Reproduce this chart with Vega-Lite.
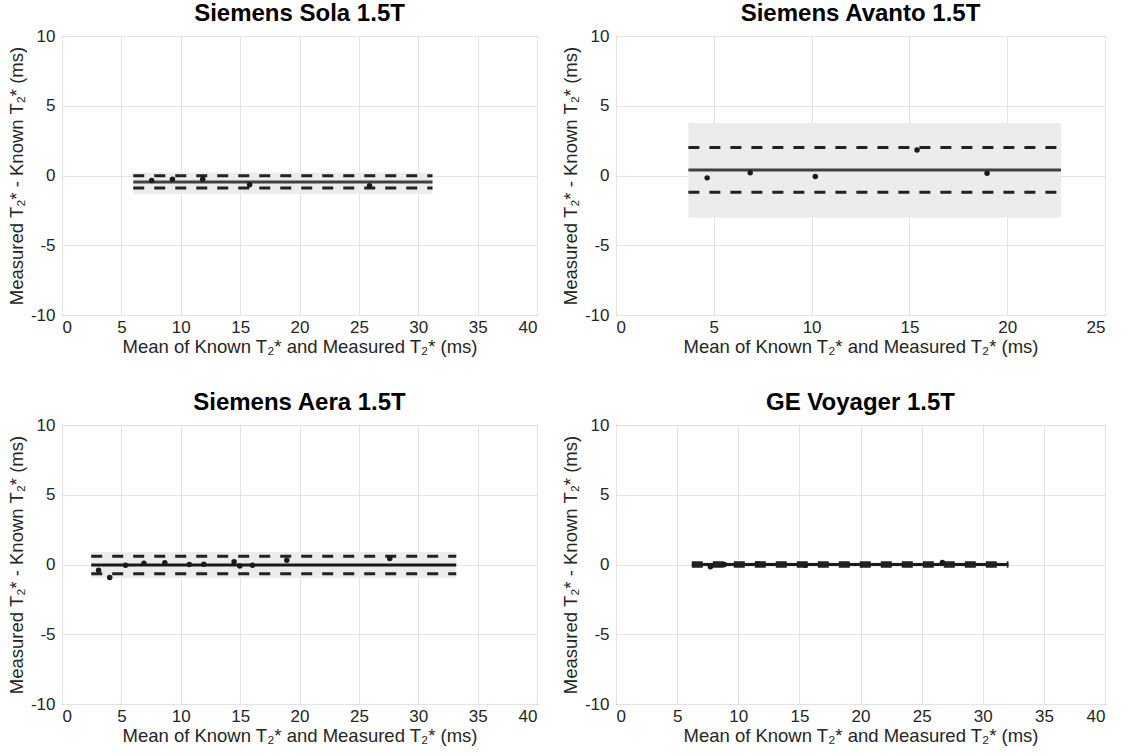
{
  "$schema": "https://vega.github.io/schema/vega-lite/v6.json",
  "padding": {"left": 6, "top": 1, "right": 10, "bottom": 2},
  "background": "white",
  "spacing": 34,
  "datasets": {
    "points": [
      {"panel": "Sola", "mean": 7.55, "diff": -0.36},
      {"panel": "Sola", "mean": 9.3, "diff": -0.26},
      {"panel": "Sola", "mean": 11.85, "diff": -0.26},
      {"panel": "Sola", "mean": 15.8, "diff": -0.67},
      {"panel": "Sola", "mean": 25.9, "diff": -0.74},
      {"panel": "Avanto", "mean": 4.66, "diff": -0.17},
      {"panel": "Avanto", "mean": 6.86, "diff": 0.19},
      {"panel": "Avanto", "mean": 10.19, "diff": -0.07},
      {"panel": "Avanto", "mean": 15.39, "diff": 1.83},
      {"panel": "Avanto", "mean": 18.97, "diff": 0.16},
      {"panel": "Aera", "mean": 3.08, "diff": -0.41},
      {"panel": "Aera", "mean": 4.02, "diff": -0.93},
      {"panel": "Aera", "mean": 5.35, "diff": -0.05},
      {"panel": "Aera", "mean": 6.9, "diff": 0.09},
      {"panel": "Aera", "mean": 8.66, "diff": 0.12},
      {"panel": "Aera", "mean": 10.72, "diff": 0.0},
      {"panel": "Aera", "mean": 11.94, "diff": 0.02},
      {"panel": "Aera", "mean": 14.49, "diff": 0.19},
      {"panel": "Aera", "mean": 14.97, "diff": -0.1},
      {"panel": "Aera", "mean": 16.04, "diff": -0.05},
      {"panel": "Aera", "mean": 18.93, "diff": 0.31},
      {"panel": "Aera", "mean": 27.6, "diff": 0.43},
      {"panel": "GE", "mean": 7.72, "diff": -0.16},
      {"panel": "GE", "mean": 8.87, "diff": 0.0},
      {"panel": "GE", "mean": 11.6, "diff": 0.05},
      {"panel": "GE", "mean": 15.47, "diff": -0.05},
      {"panel": "GE", "mean": 26.7, "diff": 0.15}
    ],
    "bands": [
      {"panel": "Sola", "x0": 6.0, "x1": 31.2, "lo": -1.32, "hi": 0.22},
      {"panel": "Avanto", "x0": 3.7, "x1": 22.75, "lo": -3.02, "hi": 3.76},
      {"panel": "Aera", "x0": 2.46, "x1": 33.2, "lo": -0.96, "hi": 0.9},
      {"panel": "GE", "x0": 6.2, "x1": 32.1, "lo": -0.2, "hi": 0.2}
    ],
    "lines": [
      {"panel": "Sola", "kind": "mean", "x0": 6.0, "x1": 31.2, "value": -0.46},
      {"panel": "Sola", "kind": "limit", "x0": 6.0, "x1": 31.2, "value": -0.01},
      {"panel": "Sola", "kind": "limit", "x0": 6.0, "x1": 31.2, "value": -0.9},
      {"panel": "Avanto", "kind": "mean", "x0": 3.7, "x1": 22.75, "value": 0.39},
      {"panel": "Avanto", "kind": "limit", "x0": 3.7, "x1": 22.75, "value": 2.01},
      {"panel": "Avanto", "kind": "limit", "x0": 3.7, "x1": 22.75, "value": -1.2},
      {"panel": "Aera", "kind": "mean", "x0": 2.46, "x1": 33.2, "value": -0.04},
      {"panel": "Aera", "kind": "limit", "x0": 2.46, "x1": 33.2, "value": 0.59},
      {"panel": "Aera", "kind": "limit", "x0": 2.46, "x1": 33.2, "value": -0.67},
      {"panel": "GE", "kind": "mean", "x0": 6.2, "x1": 32.1, "value": 0.0},
      {"panel": "GE", "kind": "limit", "x0": 6.2, "x1": 32.1, "value": 0.12},
      {"panel": "GE", "kind": "limit", "x0": 6.2, "x1": 32.1, "value": -0.12}
    ]
  },
  "vconcat": [
    {
      "spacing": 22,
      "hconcat": [
        {
          "width": 475, "height": 279,
          "title": "Siemens Sola 1.5T",
          "layer": [
            {"data": {"name": "bands"}, "transform": [{"filter": "datum.panel === 'Sola'"}],
             "mark": {"type": "rect", "color": "#ececec"},
             "encoding": {
               "x": {"field": "x0", "type": "quantitative", "scale": {"domain": [0, 40], "nice": false, "zero": false}, "axis": {"values": [0, 5, 10, 15, 20, 25, 30, 35, 40]}, "title": "Mean of Known T₂* and Measured T₂* (ms)"},
               "x2": {"field": "x1"},
               "y": {"field": "lo", "type": "quantitative", "scale": {"domain": [-10, 10], "nice": false, "zero": false}, "axis": {"values": [-10, -5, 0, 5, 10]}, "title": "Measured T₂* - Known T₂* (ms)"},
               "y2": {"field": "hi"}}},
            {"data": {"name": "lines"}, "transform": [{"filter": "datum.panel === 'Sola' && datum.kind === 'mean'"}],
             "mark": {"type": "rule", "color": "#404040", "strokeWidth": 3},
             "encoding": {"x": {"field": "x0", "type": "quantitative"}, "x2": {"field": "x1"}, "y": {"field": "value", "type": "quantitative"}}},
            {"data": {"name": "lines"}, "transform": [{"filter": "datum.panel === 'Sola' && datum.kind === 'limit'"}],
             "mark": {"type": "rule", "color": "#222222", "strokeWidth": 3, "strokeDash": [11, 10]},
             "encoding": {"x": {"field": "x0", "type": "quantitative"}, "x2": {"field": "x1"}, "y": {"field": "value", "type": "quantitative"}}},
            {"data": {"name": "points"}, "transform": [{"filter": "datum.panel === 'Sola'"}],
             "mark": {"type": "circle", "color": "#1a1a1a", "opacity": 1, "size": 30},
             "encoding": {"x": {"field": "mean", "type": "quantitative"}, "y": {"field": "diff", "type": "quantitative"}}}
          ]
        },
        {
          "width": 489, "height": 279,
          "title": "Siemens Avanto 1.5T",
          "layer": [
            {"data": {"name": "bands"}, "transform": [{"filter": "datum.panel === 'Avanto'"}],
             "mark": {"type": "rect", "color": "#ececec"},
             "encoding": {
               "x": {"field": "x0", "type": "quantitative", "scale": {"domain": [0, 25], "nice": false, "zero": false}, "axis": {"values": [0, 5, 10, 15, 20, 25]}, "title": "Mean of Known T₂* and Measured T₂* (ms)"},
               "x2": {"field": "x1"},
               "y": {"field": "lo", "type": "quantitative", "scale": {"domain": [-10, 10], "nice": false, "zero": false}, "axis": {"values": [-10, -5, 0, 5, 10]}, "title": "Measured T₂* - Known T₂* (ms)"},
               "y2": {"field": "hi"}}},
            {"data": {"name": "lines"}, "transform": [{"filter": "datum.panel === 'Avanto' && datum.kind === 'mean'"}],
             "mark": {"type": "rule", "color": "#404040", "strokeWidth": 3},
             "encoding": {"x": {"field": "x0", "type": "quantitative"}, "x2": {"field": "x1"}, "y": {"field": "value", "type": "quantitative"}}},
            {"data": {"name": "lines"}, "transform": [{"filter": "datum.panel === 'Avanto' && datum.kind === 'limit'"}],
             "mark": {"type": "rule", "color": "#222222", "strokeWidth": 3, "strokeDash": [11, 10]},
             "encoding": {"x": {"field": "x0", "type": "quantitative"}, "x2": {"field": "x1"}, "y": {"field": "value", "type": "quantitative"}}},
            {"data": {"name": "points"}, "transform": [{"filter": "datum.panel === 'Avanto'"}],
             "mark": {"type": "circle", "color": "#1a1a1a", "opacity": 1, "size": 30},
             "encoding": {"x": {"field": "mean", "type": "quantitative"}, "y": {"field": "diff", "type": "quantitative"}}}
          ]
        }
      ]
    },
    {
      "spacing": 22,
      "hconcat": [
        {
          "width": 475, "height": 279,
          "title": "Siemens Aera 1.5T",
          "layer": [
            {"data": {"name": "bands"}, "transform": [{"filter": "datum.panel === 'Aera'"}],
             "mark": {"type": "rect", "color": "#ececec"},
             "encoding": {
               "x": {"field": "x0", "type": "quantitative", "scale": {"domain": [0, 40], "nice": false, "zero": false}, "axis": {"values": [0, 5, 10, 15, 20, 25, 30, 35, 40]}, "title": "Mean of Known T₂* and Measured T₂* (ms)"},
               "x2": {"field": "x1"},
               "y": {"field": "lo", "type": "quantitative", "scale": {"domain": [-10, 10], "nice": false, "zero": false}, "axis": {"values": [-10, -5, 0, 5, 10]}, "title": "Measured T₂* - Known T₂* (ms)"},
               "y2": {"field": "hi"}}},
            {"data": {"name": "lines"}, "transform": [{"filter": "datum.panel === 'Aera' && datum.kind === 'mean'"}],
             "mark": {"type": "rule", "color": "#1a1a1a", "strokeWidth": 3},
             "encoding": {"x": {"field": "x0", "type": "quantitative"}, "x2": {"field": "x1"}, "y": {"field": "value", "type": "quantitative"}}},
            {"data": {"name": "lines"}, "transform": [{"filter": "datum.panel === 'Aera' && datum.kind === 'limit'"}],
             "mark": {"type": "rule", "color": "#222222", "strokeWidth": 3, "strokeDash": [11, 10]},
             "encoding": {"x": {"field": "x0", "type": "quantitative"}, "x2": {"field": "x1"}, "y": {"field": "value", "type": "quantitative"}}},
            {"data": {"name": "points"}, "transform": [{"filter": "datum.panel === 'Aera'"}],
             "mark": {"type": "circle", "color": "#1a1a1a", "opacity": 1, "size": 30},
             "encoding": {"x": {"field": "mean", "type": "quantitative"}, "y": {"field": "diff", "type": "quantitative"}}}
          ]
        },
        {
          "width": 489, "height": 279,
          "title": "GE Voyager 1.5T",
          "layer": [
            {"data": {"name": "bands"}, "transform": [{"filter": "datum.panel === 'GE'"}],
             "mark": {"type": "rect", "color": "#ececec"},
             "encoding": {
               "x": {"field": "x0", "type": "quantitative", "scale": {"domain": [0, 40], "nice": false, "zero": false}, "axis": {"values": [0, 5, 10, 15, 20, 25, 30, 35, 40]}, "title": "Mean of Known T₂* and Measured T₂* (ms)"},
               "x2": {"field": "x1"},
               "y": {"field": "lo", "type": "quantitative", "scale": {"domain": [-10, 10], "nice": false, "zero": false}, "axis": {"values": [-10, -5, 0, 5, 10]}, "title": "Measured T₂* - Known T₂* (ms)"},
               "y2": {"field": "hi"}}},
            {"data": {"name": "lines"}, "transform": [{"filter": "datum.panel === 'GE' && datum.kind === 'mean'"}],
             "mark": {"type": "rule", "color": "#1a1a1a", "strokeWidth": 3},
             "encoding": {"x": {"field": "x0", "type": "quantitative"}, "x2": {"field": "x1"}, "y": {"field": "value", "type": "quantitative"}}},
            {"data": {"name": "lines"}, "transform": [{"filter": "datum.panel === 'GE' && datum.kind === 'limit'"}],
             "mark": {"type": "rule", "color": "#222222", "strokeWidth": 3, "strokeDash": [11, 10]},
             "encoding": {"x": {"field": "x0", "type": "quantitative"}, "x2": {"field": "x1"}, "y": {"field": "value", "type": "quantitative"}}},
            {"data": {"name": "points"}, "transform": [{"filter": "datum.panel === 'GE'"}],
             "mark": {"type": "circle", "color": "#1a1a1a", "opacity": 1, "size": 30},
             "encoding": {"x": {"field": "mean", "type": "quantitative"}, "y": {"field": "diff", "type": "quantitative"}}}
          ]
        }
      ]
    }
  ],
  "config": {
    "font": "Liberation Sans",
    "view": {"stroke": "#4d4d4d", "strokeWidth": 1},
    "title": {"fontSize": 24, "fontWeight": "bold", "color": "#000000", "offset": 1, "anchor": "middle", "font": "Liberation Sans"},
    "axis": {
      "domain": false,
      "ticks": false,
      "grid": true,
      "gridColor": "#e3e3e3",
      "gridWidth": 1,
      "labelFontSize": 17,
      "labelColor": "#262626",
      "labelFont": "Liberation Sans",
      "labelExpr": "'' + datum.value",
      "titleFont": "Liberation Sans",
      "titleFontSize": 18.5,
      "titleFontWeight": "normal",
      "titleColor": "#262626"
    },
    "axisX": {"labelPadding": 4, "titlePadding": 2},
    "axisY": {"labelPadding": 7, "titlePadding": 4}
  }
}
